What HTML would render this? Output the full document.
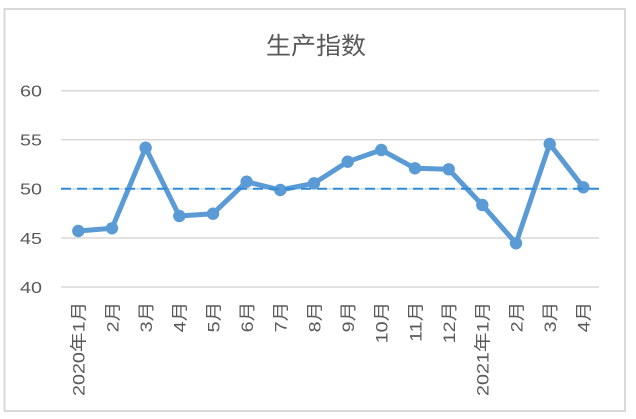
<!DOCTYPE html>
<html><head><meta charset="utf-8"><style>
html,body{margin:0;padding:0;background:#fff;}
svg{display:block;}
text{font-family:"Liberation Sans","Noto Sans CJK SC",sans-serif;fill:#595959;}
</style></head><body>
<svg width="636" height="419" viewBox="0 0 636 419" xmlns="http://www.w3.org/2000/svg">
<rect x="0" y="0" width="636" height="419" fill="#fff"/>
<rect x="4.5" y="9" width="620.5" height="402" fill="#fff" stroke="#d9d9d9" stroke-width="2"/>
<text x="316" y="54" text-anchor="middle" font-size="24" textLength="100" lengthAdjust="spacingAndGlyphs">生产指数</text>
<g stroke="#d9d9d9" stroke-width="1.5">
<line x1="61" y1="90.7" x2="599" y2="90.7"/>
<line x1="61" y1="139.8" x2="599" y2="139.8"/>
<line x1="61" y1="188.9" x2="599" y2="188.9"/>
<line x1="61" y1="238" x2="599" y2="238"/>
<line x1="61" y1="287" x2="599" y2="287"/>
</g>
<g font-size="16" text-anchor="end">
<text x="42" y="96.5" textLength="22" lengthAdjust="spacingAndGlyphs">60</text>
<text x="42" y="145.6" textLength="22" lengthAdjust="spacingAndGlyphs">55</text>
<text x="42" y="194.7" textLength="22" lengthAdjust="spacingAndGlyphs">50</text>
<text x="42" y="243.8" textLength="22" lengthAdjust="spacingAndGlyphs">45</text>
<text x="42" y="292.8" textLength="22" lengthAdjust="spacingAndGlyphs">40</text>
</g>
<polyline fill="none" stroke="#5b9bd5" stroke-width="5" stroke-linejoin="round" points="78.3,231 112,228.3 145.6,147.7 179.3,216 213,213.7 246.6,181.7 280.3,190 314,183.3 347.7,161.7 381.3,150 415,168.3 448.7,169.3 482.3,205 516,243.3 549.7,144 583.3,187.3"/>
<g fill="#5b9bd5">
<circle cx="78.3" cy="231" r="6.2"/>
<circle cx="112" cy="228.3" r="6.2"/>
<circle cx="145.6" cy="147.7" r="6.2"/>
<circle cx="179.3" cy="216" r="6.2"/>
<circle cx="213" cy="213.7" r="6.2"/>
<circle cx="246.6" cy="181.7" r="6.2"/>
<circle cx="280.3" cy="190" r="6.2"/>
<circle cx="314" cy="183.3" r="6.2"/>
<circle cx="347.7" cy="161.7" r="6.2"/>
<circle cx="381.3" cy="150" r="6.2"/>
<circle cx="415" cy="168.3" r="6.2"/>
<circle cx="448.7" cy="169.3" r="6.2"/>
<circle cx="482.3" cy="205" r="6.2"/>
<circle cx="516" cy="243.3" r="6.2"/>
<circle cx="549.7" cy="144" r="6.2"/>
<circle cx="583.3" cy="187.3" r="6.2"/>
</g>
<line x1="61" y1="188.7" x2="600" y2="188.7" stroke="#2f8bd8" stroke-width="2" stroke-dasharray="10 6"/>
<g font-size="17" text-anchor="end">
<text transform="translate(84.6,301.7) rotate(-90) scale(1.16,1)">2020年1月</text>
<text transform="translate(118.3,301.7) rotate(-90) scale(1.16,1)">2月</text>
<text transform="translate(151.9,301.7) rotate(-90) scale(1.16,1)">3月</text>
<text transform="translate(185.6,301.7) rotate(-90) scale(1.16,1)">4月</text>
<text transform="translate(219.3,301.7) rotate(-90) scale(1.16,1)">5月</text>
<text transform="translate(252.9,301.7) rotate(-90) scale(1.16,1)">6月</text>
<text transform="translate(286.6,301.7) rotate(-90) scale(1.16,1)">7月</text>
<text transform="translate(320.3,301.7) rotate(-90) scale(1.16,1)">8月</text>
<text transform="translate(354,301.7) rotate(-90) scale(1.16,1)">9月</text>
<text transform="translate(387.6,301.7) rotate(-90) scale(1.16,1)">10月</text>
<text transform="translate(421.3,301.7) rotate(-90) scale(1.16,1)">11月</text>
<text transform="translate(455,301.7) rotate(-90) scale(1.16,1)">12月</text>
<text transform="translate(488.6,301.7) rotate(-90) scale(1.16,1)">2021年1月</text>
<text transform="translate(522.3,301.7) rotate(-90) scale(1.16,1)">2月</text>
<text transform="translate(556,301.7) rotate(-90) scale(1.16,1)">3月</text>
<text transform="translate(589.6,301.7) rotate(-90) scale(1.16,1)">4月</text>
</g>
</svg>
</body></html>
